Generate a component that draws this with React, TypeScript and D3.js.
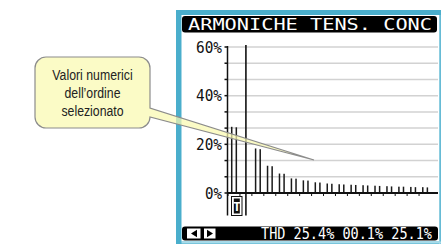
import * as d3 from "d3";

// harmonic display, THD selected
const titleText = "ARMONICHE TENS. CONC";
const footerText = "THD 25.4% 00.1% 25.1%";
const calloutLines = ["Valori numerici", "dell’ordine", "selezionato"];

// slots along the x axis: T = THD, 1 = fundamental (cursor), then orders 2..16
const slots = ["T", "1", "2", "3", "4", "5", "6", "7", "8", "9", "10", "11", "12", "13", "14", "15", "16"];
const barOrders = ["T", "2", "3", "4", "5", "6", "7", "8", "9", "10", "11", "12", "13", "14", "15", "16"];
const phaseL1 = [27.2, 18.3, 11.2, 8.0, 6.0, 5.2, 4.4, 3.9, 3.6, 3.4, 3.2, 3.0, 2.8, 2.6, 2.5, 2.4];
const phaseL2 = [0.1, 0.1, 0.1, 0.1, 0.1, 0.1, 0.1, 0.1, 0.1, 0.1, 0.1, 0.1, 0.1, 0.1, 0.1, 0.1];
const phaseL3 = [27.0, 18.0, 11.0, 7.9, 5.9, 5.1, 4.3, 3.8, 3.5, 3.3, 3.1, 2.9, 2.7, 2.6, 2.4, 2.3];
const yTickLabels = [0, 20, 40, 60];
const selectedSlot = "1";

export default function App() {
  const width = 441;
  const height = 244;

  const x = d3.scaleBand().domain(slots).range([228, 431]).padding(0);
  const y = d3.scaleLinear().domain([0, 60]).range([193, 47]);
  const gridValues = d3.range(0, 60.01, 20 / 3);
  const cx = (s: string) => (x(s) || 0) + x.bandwidth() / 2;

  const phases = [
    { values: phaseL1, dx: -2.3 },
    { values: phaseL2, dx: 0 },
    { values: phaseL3, dx: 2.3 },
  ];

  // callout box with wedge pointing into the screen
  const bx0 = 35, by0 = 57, bx1 = 150, by1 = 128, r = 11;
  const callout =
    `M${bx0 + r},${by0} H${bx1 - r} A${r},${r} 0 0 1 ${bx1},${by0 + r} V108 L314,160 L${bx1},${by1 - r} ` +
    `A${r},${r} 0 0 1 ${bx1 - r},${by1} H${bx0 + r} A${r},${r} 0 0 1 ${bx0},${by1 - r} ` +
    `V${by0 + r} A${r},${r} 0 0 1 ${bx0 + r},${by0} Z`;

  const mono = "'DejaVu Sans Mono', monospace";

  return (
    <svg
      width={width}
      height={height}
      style={{ position: "absolute", left: 0, top: 0, background: "#fff" }}
    >
      {/* display frame */}
      <rect x={176} y={10} width={width - 176} height={height - 10} fill="#4aaecc" />
      <rect x={181.5} y={15} width={257.5} height={226.5} fill="#fff" />
      <line x1={439.8} x2={439.8} y1={15} y2={height} stroke="#a8dbe9" strokeWidth={1} />
      <line x1={181.5} x2={width} y1={242.5} y2={242.5} stroke="#a8dbe9" strokeWidth={2} />

      {/* title bar */}
      <rect x={182} y={16} width={255} height={16.5} rx={3} fill="#000" />
      <text
        x={188}
        y={30}
        fill="#fff"
        fontFamily={mono}
        fontSize={16}
        textLength={244}
        lengthAdjust="spacingAndGlyphs"
      >
        {titleText}
      </text>

      {/* grid */}
      {gridValues.map((v) => (
        <line key={v} x1={228} x2={438} y1={y(v)} y2={y(v)} stroke="#d2d2d2" strokeWidth={1.5} />
      ))}
      {gridValues.map((v) => (
        <line key={"t" + v} x1={224.5} x2={228} y1={y(v)} y2={y(v)} stroke="#111" strokeWidth={1.5} />
      ))}
      {yTickLabels.map((v) => (
        <text
          key={v}
          x={222}
          y={y(v) + 5.5}
          textAnchor="end"
          fontFamily={mono}
          fontSize={15}
          fill="#111"
          textLength={v === 0 ? 17 : 26}
          lengthAdjust="spacingAndGlyphs"
        >
          {v}%
        </text>
      ))}

      {/* bars */}
      {phases.map((p, pi) =>
        barOrders.map((o, i) => (
          <rect
            key={pi + "-" + o}
            x={cx(o) + p.dx - 0.7}
            y={y(p.values[i])}
            width={1.5}
            height={y(0) - y(p.values[i])}
            fill="#1a1a1a"
          />
        ))
      )}

      {/* x axis ticks and baseline */}
      {slots.map((s) => (
        <line key={"x" + s} x1={x(s) || 0} x2={x(s) || 0} y1={193} y2={196} stroke="#111" strokeWidth={1} />
      ))}
      <line x1={227.5} x2={438} y1={193} y2={193} stroke="#111" strokeWidth={2} />
      <line x1={227.5} x2={227.5} y1={46} y2={215.5} stroke="#111" strokeWidth={1.5} />

      {/* cursor and selected order marker */}
      <line x1={cx(selectedSlot)} x2={cx(selectedSlot)} y1={45} y2={215.5} stroke="#111" strokeWidth={1.6} />
      <rect x={231.5} y={196.5} width={10.5} height={19} fill="#fff" stroke="#111" strokeWidth={1} />
      <rect x={233.8} y={198.5} width={6} height={15} fill="#111" />
      <text x={236.8} y={211} textAnchor="middle" fontFamily={mono} fontSize={13} fontWeight="bold" fill="#fff">
        T
      </text>

      {/* footer bar */}
      <rect x={182} y={226.5} width={256} height={14} rx={3} fill="#000" />
      <rect x={187} y={228.5} width={13.5} height={10} fill="#fff" />
      <rect x={204} y={228.5} width={11.5} height={10} fill="#fff" />
      <path d="M191,233.5 L197,229.8 L197,237.2 Z" fill="#000" />
      <path d="M207,229.8 L213,233.5 L207,237.2 Z" fill="#000" />
      <text
        x={261}
        y={239}
        fill="#fff"
        fontFamily={mono}
        fontSize={15}
        textLength={171}
        lengthAdjust="spacingAndGlyphs"
      >
        {footerText}
      </text>

      {/* callout */}
      <path d={callout} fill="#fafab0" fillOpacity={0.72} stroke="#8c8c8c" strokeWidth={1.2} />
      {calloutLines.map((t, i) => (
        <text
          key={t}
          transform={`translate(${(bx0 + bx1) / 2},${80 + i * 18}) scale(0.82,1)`}
          textAnchor="middle"
          fontFamily="'Liberation Sans', Arial, sans-serif"
          fontSize={15}
          fill="#222"
        >
          {t}
        </text>
      ))}
    </svg>
  );
}
